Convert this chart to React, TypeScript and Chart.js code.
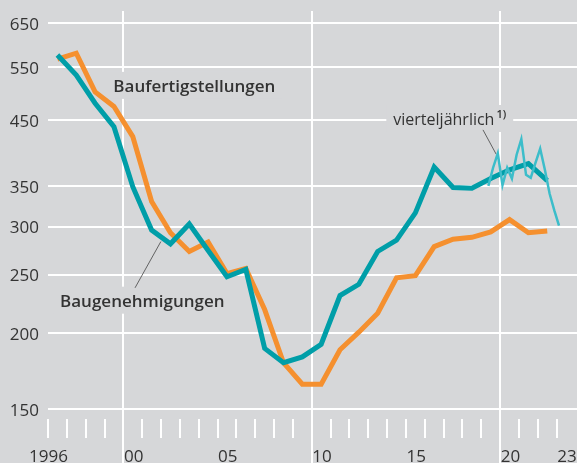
import React, { useEffect, useRef } from "react";
import { Chart, registerables } from "chart.js";

Chart.register(...registerables);

// ---- data ----
const years = [
  1996, 1997, 1998, 1999, 2000, 2001, 2002, 2003, 2004, 2005, 2006, 2007, 2008, 2009,
  2010, 2011, 2012, 2013, 2014, 2015, 2016, 2017, 2018, 2019, 2020, 2021, 2022,
];
// Baufertigstellungen (thousand dwellings)
const completions = [
  566, 579, 500, 473, 422, 330, 293, 273, 283, 251, 256, 219, 179, 165,
  165, 188, 201, 216, 247, 249, 278, 286, 288, 294, 308, 293, 295,
];
// Baugenehmigungen (thousand dwellings)
const permits = [
  575, 533, 479, 438, 349, 296, 281, 303, 274, 248, 255, 189, 179, 183,
  192, 231, 241, 273, 285, 316, 376, 348, 347, 360, 372, 381, 357,
];
// Baugenehmigungen, vierteljährlich
const quarters = [
  "2019Q2", "2019Q3", "2019Q4", "2020Q1", "2020Q2", "2020Q3", "2020Q4", "2021Q1",
  "2021Q2", "2021Q3", "2021Q4", "2022Q1", "2022Q2", "2022Q3", "2022Q4", "2023Q1",
];
const permitsQuarterly = [350, 375, 396, 351, 375, 360, 394, 418, 365, 361, 382, 403, 372, 340, 319, 301];

const yTicks = [150, 200, 250, 300, 350, 450, 550, 650];
const xLabelYears = [1996, 2000, 2005, 2010, 2015, 2020, 2023];
const xLabelTexts = ["1996", "00", "05", "10", "15", "20", "23"];
const decadeYears = [2000, 2010, 2020];
const firstTickYear = 1996;
const lastTickYear = 2023;

// ---- styles ----
const BG = "#d6d7d9";
const GRID = "#ffffff";
const TEXT = "#333333";
const ORANGE = "#f5902f";
const TEAL = "#009ea8";
const TEAL_LIGHT = "#3cbdca";
const FONT = '"Open Sans", "Noto Sans", sans-serif';

const annotations = [
  { text: "Baufertigstellungen", x: 1999.47, y: 500, weight: 600, size: 17, sup: "" },
  { text: "Baugenehmigungen", x: 1996.64, y: 221.4, weight: 600, size: 17, sup: "" },
  { text: "vierteljährlich", x: 2014.33, y: 441, weight: 400, size: 16, sup: "1)" },
];
const leaders = [
  { from: [2000.62, 237.8], to: [2001.99, 283.4] },
  { from: [2019.09, 432.9], to: [2019.79, 394.7] },
];

const quarterToX = (q: string) => {
  const yr = parseInt(q.slice(0, 4), 10);
  const qi = parseInt(q.slice(5), 10);
  return yr + (qi - 0.5) / 4;
};

const labelPlugin = {
  id: "chartLabels",
  beforeDatasetsDraw(chart: any) {
    const { ctx, chartArea, scales } = chart;
    const xs = scales.x;
    const ys = scales.y;
    ctx.save();
    // decade lines continue through the label band
    ctx.strokeStyle = GRID;
    ctx.lineWidth = 2;
    for (const d of decadeYears) {
      const px = Math.round(xs.getPixelForValue(d) - 1) + 1;
      ctx.beginPath();
      ctx.moveTo(px, chartArea.bottom);
      ctx.lineTo(px, chart.height);
      ctx.stroke();
    }
    // masks behind labels
    for (const a of annotations) {
      ctx.font = `${a.weight} ${a.size}px ${FONT}`;
      const px = xs.getPixelForValue(a.x);
      const py = ys.getPixelForValue(a.y);
      let w = ctx.measureText(a.text).width;
      if (a.sup) {
        ctx.font = `600 11px ${FONT}`;
        w += 2 + ctx.measureText(a.sup).width;
      }
      ctx.fillStyle = BG;
      ctx.fillRect(px - 7, py - 20, w + 14, 27);
    }
    // leader lines
    ctx.strokeStyle = "#444444";
    ctx.lineWidth = 0.8;
    for (const l of leaders) {
      ctx.beginPath();
      ctx.moveTo(xs.getPixelForValue(l.from[0]), ys.getPixelForValue(l.from[1]));
      ctx.lineTo(xs.getPixelForValue(l.to[0]), ys.getPixelForValue(l.to[1]));
      ctx.stroke();
    }
    // texts
    ctx.fillStyle = TEXT;
    ctx.textBaseline = "alphabetic";
    ctx.textAlign = "left";
    for (const a of annotations) {
      ctx.font = `${a.weight} ${a.size}px ${FONT}`;
      const px = xs.getPixelForValue(a.x);
      const py = ys.getPixelForValue(a.y);
      ctx.fillText(a.text, px, py);
      if (a.sup) {
        const w = ctx.measureText(a.text).width;
        ctx.font = `600 11px ${FONT}`;
        ctx.fillText(a.sup, px + w + 2, py - 7);
      }
    }
    ctx.restore();
  },
};

export default function App() {
  const ref = useRef<HTMLCanvasElement>(null);

  useEffect(() => {
    document.body.style.margin = "0";
    const canvas = ref.current;
    if (!canvas) return;

    const chart = new Chart(canvas, {
      type: "line",
      data: {
        datasets: [
          {
            label: "Baugenehmigungen vierteljährlich",
            data: quarters.map((q, i) => ({ x: quarterToX(q), y: permitsQuarterly[i] })),
            borderColor: TEAL_LIGHT,
            borderWidth: 2.5,
            pointRadius: 0,
            tension: 0,
          },
          {
            label: "Baugenehmigungen",
            data: years.map((yr, i) => ({ x: yr + 0.5, y: permits[i] })),
            borderColor: TEAL,
            borderWidth: 5,
            pointRadius: 0,
            tension: 0,
          },
          {
            label: "Baufertigstellungen",
            data: years.map((yr, i) => ({ x: yr + 0.5, y: completions[i] })),
            borderColor: ORANGE,
            borderWidth: 5,
            pointRadius: 0,
            tension: 0,
          },
        ],
      },
      options: {
        responsive: false,
        animation: false,
        devicePixelRatio: 1,
        layout: { padding: { top: 11, left: 0, right: 0, bottom: 0 } },
        plugins: {
          legend: { display: false },
          tooltip: { enabled: false },
        },
        scales: {
          x: {
            type: "linear",
            min: 1996,
            max: 2024.08,
            border: { display: false },
            grid: {
              color: (c: any) =>
                c.tick && decadeYears.includes(c.tick.value) ? GRID : "rgba(0,0,0,0)",
              tickColor: GRID,
              lineWidth: 2,
              tickWidth: 2,
              tickLength: 19,
              drawTicks: true,
              drawOnChartArea: true,
            },
            ticks: {
              autoSkip: false,
              maxRotation: 0,
              minRotation: 0,
              align: "end",
              labelOffset: 20,
              padding: 9,
              color: TEXT,
              font: { family: FONT, size: 17 },
              callback: (v: any) => {
                const idx = xLabelYears.indexOf(Number(v));
                return idx >= 0 ? xLabelTexts[idx] : "";
              },
            },
            afterBuildTicks: (scale: any) => {
              const t = [];
              for (let yr = firstTickYear; yr <= lastTickYear; yr++) t.push({ value: yr });
              scale.ticks = t;
            },
            afterFit: (scale: any) => {
              scale.height = 44;
              scale.paddingLeft = 0;
              scale.paddingRight = 0;
            },
          },
          y: {
            type: "logarithmic",
            min: 144.6,
            max: 679.5,
            border: { display: false },
            grid: {
              color: GRID,
              lineWidth: 2,
              drawTicks: false,
            },
            ticks: {
              autoSkip: false,
              padding: 9,
              labelOffset: 2,
              color: TEXT,
              font: { family: FONT, size: 17 },
              callback: (v: any) => String(v),
            },
            afterBuildTicks: (scale: any) => {
              scale.ticks = yTicks.map((v) => ({ value: v }));
            },
            afterFit: (scale: any) => {
              scale.width = 48;
              scale.paddingTop = 0;
              scale.paddingBottom = 0;
            },
          },
        },
      },
      plugins: [labelPlugin],
    } as any);

    return () => chart.destroy();
  }, []);

  return (
    <div style={{ width: 577, height: 463, background: BG, overflow: "hidden" }}>
      <canvas ref={ref} width={577} height={463} style={{ display: "block", background: BG }} />
    </div>
  );
}
